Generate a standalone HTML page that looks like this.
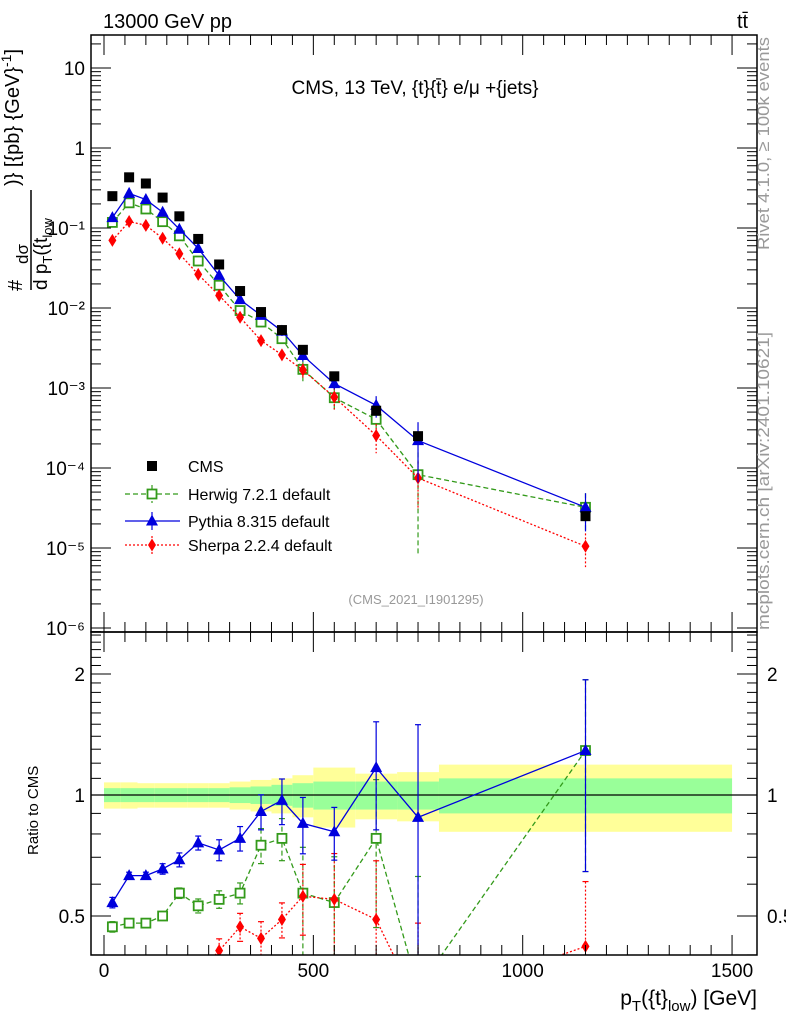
<!DOCTYPE html>
<html><head><meta charset="utf-8"><style>
html,body{margin:0;padding:0;background:#fff;width:786px;height:1024px;overflow:hidden}
svg{display:block;font-family:"Liberation Sans",sans-serif}
</style></head><body>
<svg id="c" width="786" height="1024" viewBox="0 0 786 1024" xmlns="http://www.w3.org/2000/svg">
<rect x="0" y="0" width="786" height="1024" fill="#fff"/>
<g id="bands"></g><g id="marks"></g>
<g id="axes" stroke="#000" fill="none"></g>
<text x="103" y="28" font-size="20">13000 GeV pp</text>
<text x="737" y="28" font-size="20">tt̄</text>
<text x="415" y="94" font-size="19" text-anchor="middle">CMS, 13 TeV, {t}{t̄} e/μ +{jets}</text>
<text x="416" y="604" font-size="13" fill="#999" text-anchor="middle">(CMS_2021_I1901295)</text>
<text transform="translate(769,250) rotate(-90)" font-size="17" fill="#999" textLength="213" lengthAdjust="spacingAndGlyphs">Rivet 4.1.0, ≥ 100k events</text>
<text transform="translate(769,630) rotate(-90)" font-size="17" fill="#999" textLength="298" lengthAdjust="spacingAndGlyphs">mcplots.cern.ch [arXiv:2401.10621]</text>
<g transform="rotate(-90)" font-size="20">
<text x="-291" y="22">#</text>
<text x="-264" y="28" font-size="17">dσ</text>
<line x1="-290" x2="-190" y1="31" y2="31" stroke="#000" stroke-width="1.5"/>
<text x="-290" y="47" font-size="19">d p<tspan dy="5" font-size="13">T</tspan><tspan dy="-5">({t</tspan><tspan dy="5" font-size="13">low</tspan></text>
<text x="-186" y="19">)} [{pb} {GeV}<tspan dy="-8" font-size="14">-1</tspan><tspan dy="8">]</tspan></text>
</g>
<text transform="translate(38,855) rotate(-90)" font-size="15">Ratio to CMS</text>
<text x="757" y="1005" font-size="21" text-anchor="end">p<tspan dy="6" font-size="15">T</tspan><tspan dy="-6">({t}</tspan><tspan dy="6" font-size="15">low</tspan><tspan dy="-6">) [GeV]</tspan></text>
<g id="legend"></g>
</svg>
<script>
const binEdges=[0,40,80,120,160,200,250,300,350,400,450,500,600,700,800,1500];
const binCenters=[20,60,100,140,180,225,275,325,375,425,475,550,650,750,1150];
const cmsValues=[0.25,0.43,0.36,0.24,0.14,0.073,0.035,0.0163,0.0089,0.0053,0.0030,0.0014,0.00052,0.00025,0.000025];
const statErr=[0.04,0.04,0.04,0.04,0.04,0.04,0.04,0.045,0.05,0.06,0.07,0.08,0.08,0.08,0.1];
const totErr=[0.075,0.075,0.07,0.07,0.07,0.07,0.07,0.08,0.09,0.1,0.12,0.17,0.13,0.14,0.19];
const herwigRatio=[0.47,0.48,0.48,0.50,0.57,0.53,0.55,0.57,0.75,0.78,0.57,0.54,0.78,0.33,1.29];
const herwigErr=[0.03,0.02,0.02,0.02,0.03,0.04,0.05,0.06,0.1,0.12,0.3,0.3,0.4,0.9,0.5];
const pythiaRatio=[0.54,0.63,0.63,0.655,0.69,0.76,0.73,0.78,0.91,0.97,0.85,0.81,1.17,0.88,1.29];
const pythiaErr=[0.03,0.02,0.02,0.03,0.04,0.04,0.06,0.07,0.1,0.13,0.16,0.15,0.3,0.7,0.5];
const sherpaRatio=[0.28,0.28,0.30,0.31,0.34,0.36,0.41,0.47,0.44,0.49,0.56,0.55,0.49,0.30,0.42];
const sherpaErr=[0.04,0.04,0.04,0.05,0.05,0.06,0.07,0.08,0.1,0.1,0.2,0.3,0.4,0.6,0.45];
const yTickLabels=["10","1","10⁻¹","10⁻²","10⁻³","10⁻⁴","10⁻⁵","10⁻⁶"];
const xTickLabels=["0","500","1000","1500"];
const rTickLabels=["0.5","1","2"];

const NS="http://www.w3.org/2000/svg";
const L=91,R=757,MT=35,MB=632,RB=955;
const xs=v=>104+v*0.4187;
const ym=v=>68+(1-Math.log10(v))*80;
const yr=r=>795-121*Math.log2(r);
function mk(tag,attrs,parent){const e=document.createElementNS(NS,tag);for(const k in attrs)e.setAttribute(k,attrs[k]);parent.appendChild(e);return e;}
const marks=document.getElementById('marks'),axes=document.getElementById('axes'),bands=document.getElementById('bands'),svg=document.getElementById('c');

const defs=mk('defs',{},svg);
const c1=mk('clipPath',{id:'cm'},defs);mk('rect',{x:L,y:MT,width:R-L,height:MB-MT},c1);
const c2=mk('clipPath',{id:'cr'},defs);mk('rect',{x:L,y:MB,width:R-L,height:RB-MB},c2);
bands.setAttribute('clip-path','url(#cr)');

for(let i=0;i<binCenters.length;i++){
  const x0=xs(binEdges[i]),x1=xs(binEdges[i+1]);
  const y=mk('rect',{x:x0,y:yr(1+totErr[i]),width:x1-x0,height:yr(1-totErr[i])-yr(1+totErr[i]),fill:'#ffff99'},bands);
  
  
  const g=mk('rect',{x:x0,y:yr(1+statErr[i]),width:x1-x0,height:yr(1-statErr[i])-yr(1+statErr[i]),fill:'#99ff99'},bands);
  
  
}
mk('line',{x1:L,x2:R,y1:yr(1),y2:yr(1),stroke:'#000','stroke-width':1.2},bands);

function marker(type,x,y,color,parent){
  let e;
  if(type==='sq') e=mk('rect',{x:x-5,y:y-5,width:10,height:10,fill:'#000'},parent);
  else if(type==='osq') e=mk('rect',{x:x-4.5,y:y-4.5,width:9,height:9,fill:'#fff',stroke:color,'stroke-width':1.8},parent);
  else if(type==='tri') e=mk('path',{d:`M${x} ${y-6.5}L${x+6} ${y+4.5}L${x-6} ${y+4.5}Z`,fill:color},parent);
  else e=mk('path',{d:`M${x} ${y-6.5}L${x+4} ${y}L${x} ${y+6.5}L${x-4} ${y}Z`,fill:color},parent);
  return e;
}
const series=[
 {name:'herwig',ratio:herwigRatio,err:herwigErr,color:'#339a1a',dash:'5,3',type:'osq'},
 {name:'sherpa',ratio:sherpaRatio,err:sherpaErr,color:'#ff0000',dash:'2,2',type:'dia'},
 {name:'pythia',ratio:pythiaRatio,err:pythiaErr,color:'#0000dd',dash:'',type:'tri'}
];
const gm=mk('g',{'clip-path':'url(#cm)'},marks);
const gr=mk('g',{'clip-path':'url(#cr)'},marks);
series.forEach(s=>{
  const vals=cmsValues.map((c,i)=>c*s.ratio[i]);
  const pm=mk('polyline',{points:vals.map((v,i)=>xs(binCenters[i])+','+ym(v)).join(' '),fill:'none',stroke:s.color,'stroke-width':1.3,'stroke-dasharray':s.dash},gm);
  
  
  const pr=mk('polyline',{points:s.ratio.map((r,i)=>xs(binCenters[i])+','+yr(r)).join(' '),fill:'none',stroke:s.color,'stroke-width':1.3,'stroke-dasharray':s.dash},gr);
  
  
  vals.forEach((v,i)=>{
    const x=xs(binCenters[i]);
    const e=s.err[i];
    mk('line',{x1:x,x2:x,y1:ym(v*(1+e)),y2:ym(v*Math.max(0.05,1-e)),stroke:s.color,'stroke-width':1.2,'stroke-dasharray':s.dash},gm);
    const m=marker(s.type,x,ym(v),s.color,gm);
    
    
    const r=s.ratio[i];
    mk('line',{x1:x,x2:x,y1:yr(r*(1+e)),y2:yr(r*Math.max(0.05,1-e)),stroke:s.color,'stroke-width':1.2,'stroke-dasharray':s.dash},gr);
    mk('line',{x1:x-3,x2:x+3,y1:yr(r*(1+e)),y2:yr(r*(1+e)),stroke:s.color,'stroke-width':1.2},gr);
    mk('line',{x1:x-3,x2:x+3,y1:yr(r*Math.max(0.05,1-e)),y2:yr(r*Math.max(0.05,1-e)),stroke:s.color,'stroke-width':1.2},gr);
    const mr=marker(s.type,x,yr(r),s.color,gr);
    
    
  });
});
cmsValues.forEach((v,i)=>{
  const x=xs(binCenters[i]);
  const m=marker('sq',x,ym(v),'#000',gm);
  
  
});

mk('rect',{x:L,y:MT,width:R-L,height:MB-MT,'stroke-width':1.5},axes);
mk('rect',{x:L,y:MB,width:R-L,height:RB-MB,'stroke-width':1.5},axes);
const tg=mk('g',{fill:'#000',stroke:'none','font-size':'19'},svg);
for(let d=1;d>=-6;d--){
  const y=ym(Math.pow(10,d));
  mk('line',{x1:L,x2:L+20,y1:y,y2:y},axes);mk('line',{x1:R,x2:R-20,y1:y,y2:y},axes);
  for(let k=2;k<=9;k++){const yy=ym(k*Math.pow(10,d-1));if(yy<MB&&yy>MT){mk('line',{x1:L,x2:L+10,y1:yy,y2:yy},axes);mk('line',{x1:R,x2:R-10,y1:yy,y2:yy},axes);}}
}
{const yy=ym(20);mk('line',{x1:L,x2:L+10,y1:yy,y2:yy},axes);mk('line',{x1:R,x2:R-10,y1:yy,y2:yy},axes);}
yTickLabels.forEach((t,i)=>{
  const e=mk('text',{x:L-6,y:ym(Math.pow(10,1-i))+7,'text-anchor':'end'},tg);e.textContent=t;
  
  
});
for(let v=0;v<=1500;v+=50){
  const x=xs(v),len=v%500===0?20:10;
  [MT,MB].forEach(y0=>{mk('line',{x1:x,x2:x,y1:y0,y2:y0+len},axes);});
  [MB,RB].forEach(y0=>{mk('line',{x1:x,x2:x,y1:y0,y2:y0-len},axes);});
}
xTickLabels.forEach((t,i)=>{
  const e=mk('text',{x:xs(i*500),y:977,'text-anchor':'middle'},tg);e.textContent=t;
  
  
});
[0.4,0.5,0.6,0.7,0.8,0.9,1,1.1,1.2,1.3,1.4,1.5,1.6,1.7,1.8,1.9,2,2.1,2.2,2.3,2.4,2.5].forEach(r=>{
  const y=yr(r);if(y<MB||y>RB)return;
  const len=(r===0.5||r===1||r===2)?20:10;
  mk('line',{x1:L,x2:L+len,y1:y,y2:y},axes);mk('line',{x1:R,x2:R-len,y1:y,y2:y},axes);
});
rTickLabels.forEach((t,i)=>{
  const r=[0.5,1,2][i];
  const e=mk('text',{x:L-6,y:yr(r)+7,'text-anchor':'end'},tg);e.textContent=t;
  
  
  const e2=mk('text',{x:R+10,y:yr(r)+7},tg);e2.textContent=t;
  
  
});
const lg=document.getElementById('legend');
const leg=[{t:'CMS',type:'sq',c:'#000',d:null,y:466},{t:'Herwig 7.2.1 default',type:'osq',c:'#339a1a',d:'5,3',y:494},{t:'Pythia 8.315 default',type:'tri',c:'#0000dd',d:'',y:521},{t:'Sherpa 2.2.4 default',type:'dia',c:'#ff0000',d:'2,2',y:545}];
leg.forEach(o=>{
  const g=mk('g',{},lg);
  
  
  if(o.d!==null)mk('line',{x1:125,x2:180,y1:o.y,y2:o.y,stroke:o.c,'stroke-width':1.3,'stroke-dasharray':o.d},g);
  if(o.d!==null)mk('line',{x1:152,x2:152,y1:o.y-9,y2:o.y+9,stroke:o.c,'stroke-width':1.2,'stroke-dasharray':o.d},g);
  marker(o.type,152,o.y,o.c,g);
  const t=mk('text',{x:188,y:o.y+6,'font-size':'16'},g);t.textContent=o.t;
});
</script>
</body></html>
